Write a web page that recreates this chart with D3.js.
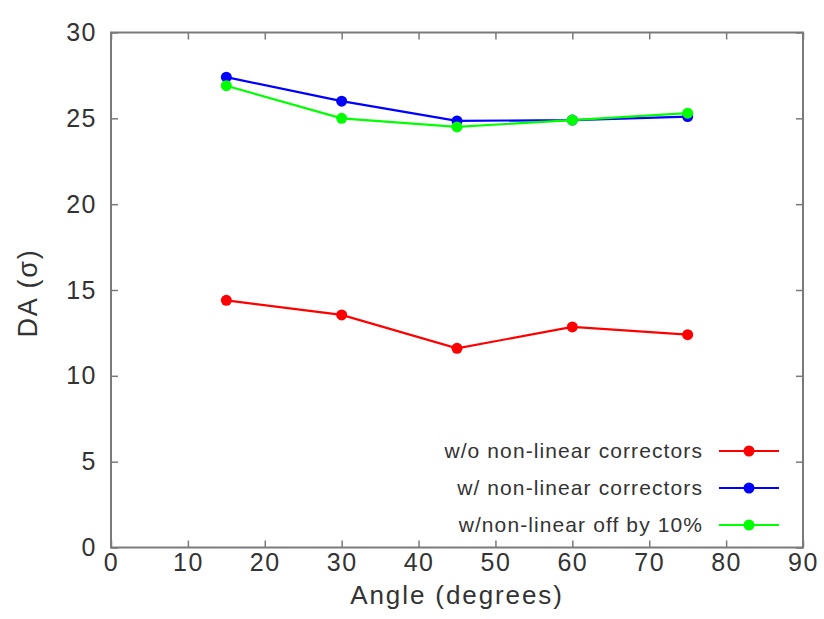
<!DOCTYPE html>
<html>
<head>
<meta charset="utf-8">
<script src="https://cdn.jsdelivr.net/npm/d3@7"></script>
<style>
  body { margin: 0; background: #fff; }
  text { font-family: "Liberation Sans", Arial, sans-serif; fill: #333; }
</style>
</head>
<body>
<svg id="chart" width="824" height="619"></svg>
<script>
// data
var angles = [15, 30, 45, 60, 75];
var noCorr = [14.4, 13.55, 11.6, 12.85, 12.4];
var withCorr = [27.4, 26.0, 24.85, 24.9, 25.1];
var offBy10 = [26.9, 25.0, 24.5, 24.9, 25.3];
var seriesNames = ["w/o non-linear correctors", "w/ non-linear correctors", "w/non-linear off by 10%"];
var seriesColors = ["#ff0000", "#0000ff", "#00ff00"];
var xTicks = [0, 10, 20, 30, 40, 50, 60, 70, 80, 90];
var yTicks = [0, 5, 10, 15, 20, 25, 30];

var svg = d3.select("#chart");
// plot frame (careful: "top" is taken by window)
var pl = 111, pr = 803, pt = 32.5, pb = 547.5;

var x = d3.scaleLinear().domain([0, 90]).range([pl, pr]);
var y = d3.scaleLinear().domain([0, 30]).range([pb, pt]);

var frameColor = "#7a7a7a";

// mirrored inward ticks
function ticks(axis, pos) {
  var g = svg.append("g").attr("transform", pos).call(axis);
  g.select(".domain").remove();
  g.selectAll(".tick line").attr("stroke", frameColor).attr("stroke-width", 1.5);
  return g;
}

var xb = ticks(d3.axisBottom(x).tickValues(xTicks).tickSize(-7).tickPadding(6), "translate(0," + pb + ")");
xb.selectAll("text").attr("font-size", 25).attr("letter-spacing", 1.5).attr("fill", "#333")
  .attr("font-family", "Liberation Sans, Arial, sans-serif");
ticks(d3.axisTop(x).tickValues(xTicks).tickSize(-7).tickFormat(""), "translate(0," + pt + ")");

var yl = ticks(d3.axisLeft(y).tickValues(yTicks).tickSize(-7).tickPadding(14), "translate(" + pl + ",0)");
yl.selectAll("text").attr("font-size", 25).attr("letter-spacing", 1.5).attr("fill", "#333")
  .attr("font-family", "Liberation Sans, Arial, sans-serif");
ticks(d3.axisRight(y).tickValues(yTicks).tickSize(-7).tickFormat(""), "translate(" + pr + ",0)");

svg.append("rect")
  .attr("x", pl).attr("y", pt)
  .attr("width", pr - pl).attr("height", pb - pt)
  .attr("fill", "none").attr("stroke", frameColor).attr("stroke-width", 2);

// axis titles
svg.append("text")
  .attr("x", (pl + pr) / 2).attr("y", 604)
  .attr("text-anchor", "middle").attr("font-size", 26).attr("letter-spacing", 1.9)
  .text("Angle (degrees)");

svg.append("text")
  .attr("transform", "translate(37," + 293 + ") rotate(-90)")
  .attr("text-anchor", "middle").attr("font-size", 27).attr("letter-spacing", 1.8)
  .text("DA (\u03c3)");

// series
var allSeries = [noCorr, withCorr, offBy10];
var line = d3.line()
  .x(function(d, i) { return x(angles[i]); })
  .y(function(d) { return y(d); });

allSeries.forEach(function(vals, k) {
  var g = svg.append("g");
  g.append("path")
    .attr("d", line(vals))
    .attr("fill", "none")
    .attr("stroke", seriesColors[k])
    .attr("stroke-width", 2.2);
  g.selectAll("circle")
    .data(vals)
    .enter().append("circle")
      .attr("cx", function(d, i) { return x(angles[i]); })
      .attr("cy", function(d) { return y(d); })
      .attr("r", 5.5)
      .attr("fill", seriesColors[k]);
});

// legend
var legend = svg.append("g");
var legendRows = [451, 488, 525];
seriesNames.forEach(function(name, k) {
  var row = legend.append("g").attr("transform", "translate(0," + legendRows[k] + ")");
  row.append("text")
    .attr("x", 703).attr("y", 0).attr("dy", "0.35em")
    .attr("text-anchor", "end").attr("font-size", 21).attr("letter-spacing", 1.1)
    .text(name);
  row.append("line")
    .attr("x1", 719).attr("x2", 779)
    .attr("stroke", seriesColors[k]).attr("stroke-width", 2.2);
  row.append("circle")
    .attr("cx", 749).attr("r", 5.5)
    .attr("fill", seriesColors[k]);
});
</script>
</body>
</html>
